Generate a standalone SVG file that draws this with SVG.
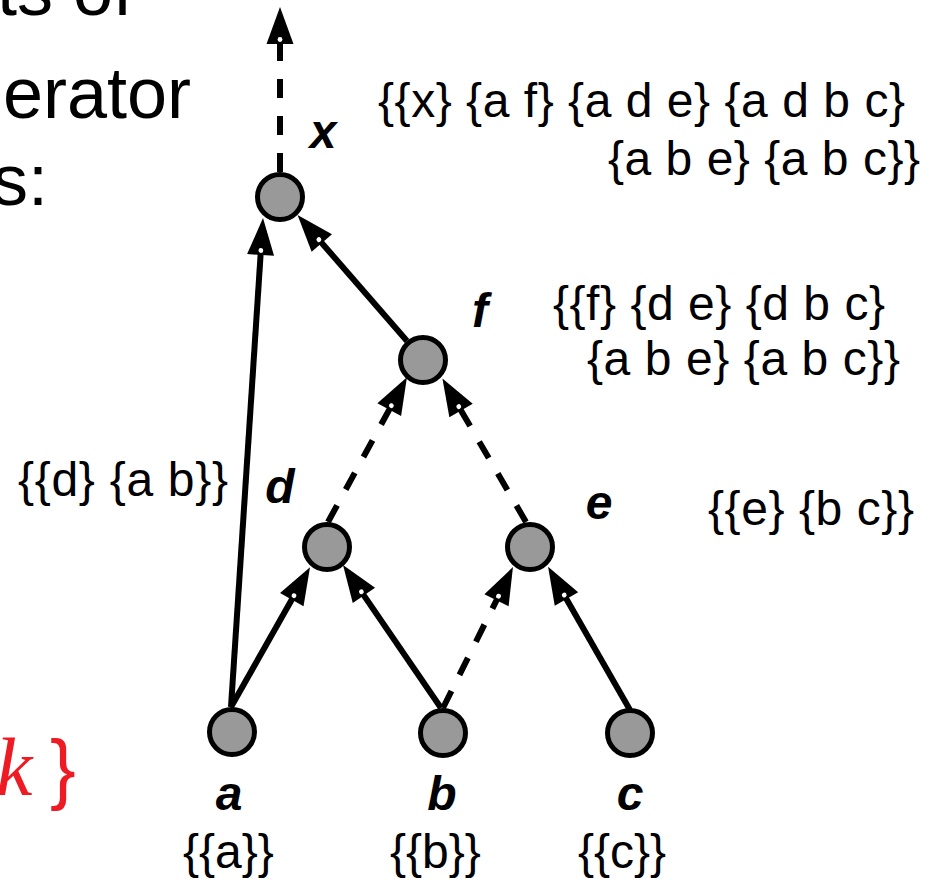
<svg xmlns="http://www.w3.org/2000/svg" width="936" height="884" viewBox="0 0 936 884">
<defs>
<style>
.node{fill:#999999;stroke:#000;stroke-width:5}
.edge{fill:none;stroke:#000;stroke-width:6}
.dash{stroke-dasharray:19 18}
.big{font-family:"Liberation Sans",Arial,sans-serif;font-size:72px;fill:#000}
.set{font-family:"Liberation Sans",Arial,sans-serif;font-size:48px;fill:#000}
.lbl{font-family:"Liberation Sans",Arial,sans-serif;font-size:48px;font-weight:bold;font-style:italic;fill:#000;text-anchor:middle}
.red{fill:#ED1C24}
</style>
<marker id="arr" markerUnits="userSpaceOnUse" markerWidth="1" markerHeight="1" refX="0" refY="0" orient="auto" overflow="visible">
<path d="M-11,-13.5 L26,0 L-11,13.5 Z" fill="#000"/>
<circle cx="-6.5" cy="0" r="2.4" fill="#fff"/>
</marker>
</defs>
<rect width="936" height="884" fill="#fff"/>
<g id="title">
<text class="big" x="133" y="15" text-anchor="end">ts of</text>
<text class="big" x="191" y="118" text-anchor="end">erator</text>
<text class="big" x="48" y="205" text-anchor="end">s:</text>
<text class="red" x="-4" y="795" style="font-family:'Liberation Serif','Times New Roman',serif;font-size:82px;font-style:italic">k</text>
<text class="red" x="50" y="795" style="font-family:'Liberation Sans',Arial,sans-serif;font-size:77px">}</text>
</g>
<g id="connectors">
<path class="edge dash" d="M280,172 L280,33" marker-end="url(#arr)"/>
<path class="edge" d="M231,707 L261.3,244" marker-end="url(#arr)"/>
<path class="edge" d="M407,341 L314.6,234.7" marker-end="url(#arr)"/>
<path class="edge dash" d="M328,522 L394.5,400" marker-end="url(#arr)"/>
<path class="edge dash" d="M526,522 L455.5,401" marker-end="url(#arr)"/>
<path class="edge" d="M231,707 L297.2,590" marker-end="url(#arr)"/>
<path class="edge" d="M441,708 L357.7,586.4" marker-end="url(#arr)"/>
<path class="edge dash" d="M443,708 L501.4,590.4" marker-end="url(#arr)"/>
<path class="edge" d="M630,710 L561,589.4" marker-end="url(#arr)"/>
</g>
<g id="node-x">
<circle class="node" cx="280" cy="197" r="22.5"/>
<text class="lbl" x="323" y="148">x</text>
<text class="set" x="378" y="117" textLength="527" lengthAdjust="spacing">{{x} {a f} {a d e} {a d b c}</text>
<text class="set" x="608" y="175" textLength="312" lengthAdjust="spacing">{a b e} {a b c}}</text>
</g>
<g id="node-f">
<circle class="node" cx="423" cy="360" r="22.5"/>
<text class="lbl" x="480" y="327">f</text>
<text class="set" x="553" y="320" textLength="332" lengthAdjust="spacing">{{f} {d e} {d b c}</text>
<text class="set" x="587" y="375" textLength="313" lengthAdjust="spacing">{a b e} {a b c}}</text>
</g>
<g id="node-d">
<circle class="node" cx="327" cy="547" r="22.5"/>
<text class="lbl" x="280" y="503">d</text>
<text class="set" x="18" y="496" textLength="210" lengthAdjust="spacing">{{d} {a b}}</text>
</g>
<g id="node-e">
<circle class="node" cx="530" cy="547" r="22.5"/>
<text class="lbl" x="599" y="519">e</text>
<text class="set" x="708" y="525" textLength="206" lengthAdjust="spacing">{{e} {b c}}</text>
</g>
<g id="node-a">
<circle class="node" cx="232" cy="732" r="22.5"/>
<text class="lbl" x="229" y="810">a</text>
<text class="set" x="183" y="868">{{a}}</text>
</g>
<g id="node-b">
<circle class="node" cx="443" cy="733" r="22.5"/>
<text class="lbl" x="442" y="810">b</text>
<text class="set" x="390" y="868">{{b}}</text>
</g>
<g id="node-c">
<circle class="node" cx="630" cy="733" r="22.5"/>
<text class="lbl" x="630" y="810">c</text>
<text class="set" x="578" y="868">{{c}}</text>
</g>
</svg>
